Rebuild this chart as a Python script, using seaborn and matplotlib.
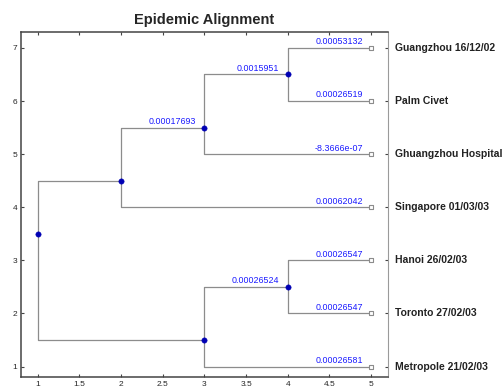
import numpy as np
import pandas as pd
import matplotlib
matplotlib.use("Agg")
import matplotlib.pyplot as plt
import seaborn as sns

# tree nodes: x = depth, y = vertical position, parent = index of parent node (-1 root)
node_x = [1, 2, 3, 4, 3, 4, 5, 5, 5, 5, 5, 5, 5]
node_y = [3.5, 4.5, 5.5, 6.5, 1.5, 2.5, 7, 6, 5, 4, 3, 2, 1]
parent = [-1, 0, 1, 2, 0, 4, 3, 3, 2, 1, 5, 5, 4]
branch_len = ["", "", "0.00017693", "0.0015951", "", "0.00026524",
              "0.00053132", "0.00026519", "-8.3666e-07", "0.00062042",
              "0.00026547", "0.00026547", "0.00026581"]
leaf_names = ["Guangzhou 16/12/02", "Palm Civet", "Ghuangzhou Hospital",
              "Singapore 01/03/03", "Hanoi 26/02/03", "Toronto 27/02/03",
              "Metropole 21/02/03"]
leaf_y = [7, 6, 5, 4, 3, 2, 1]

nodes = pd.DataFrame({"x": node_x, "y": node_y, "parent": parent, "label": branch_len})
nodes["leaf"] = nodes["x"] == 5

sns.set_style("white")
plt.rcParams["font.family"] = ["Liberation Sans", "DejaVu Sans"]

fig = plt.figure(figsize=(5.03, 3.9), dpi=100)
ax = fig.add_axes([0.042, 0.033, 0.729, 0.885])

# elbow segments from parent to child
segs = []
for i, row in nodes.iterrows():
    if row["parent"] < 0:
        continue
    p = nodes.loc[row["parent"]]
    segs.append(pd.DataFrame({"x": [p["x"], p["x"], row["x"]],
                              "y": [p["y"], row["y"], row["y"]], "seg": i}))
segs = pd.concat(segs, ignore_index=True)
sns.lineplot(data=segs, x="x", y="y", units="seg", estimator=None, sort=False,
             color="#8c8c8c", lw=0.9, ax=ax)

sns.scatterplot(data=nodes[~nodes["leaf"]], x="x", y="y", color="#0000b4",
                s=15, edgecolor="#0000b4", ax=ax, zorder=3)
sns.scatterplot(data=nodes[nodes["leaf"]], x="x", y="y", marker="s", s=12,
                facecolor="white", edgecolor="#8c8c8c", linewidth=0.8, ax=ax, zorder=3)

# branch lengths sit just above each branch, right aligned
for _, row in nodes.iterrows():
    if row["label"]:
        ax.text(row["x"] - 0.1, row["y"] + 0.03, row["label"], color="#1a1aff",
                fontsize=6.4, ha="right", va="bottom")

ax.set_xlim(0.8, 5.2)
ax.set_ylim(0.8, 7.3)
ax.set_xticks(np.arange(1, 5.01, 0.5))
ax.set_xticklabels(["1", "1.5", "2", "2.5", "3", "3.5", "4", "4.5", "5"])
ax.set_yticks(range(1, 8))
ax.set_xlabel("")
ax.set_ylabel("")
ax.tick_params(direction="in", length=2.5, width=0.8, color="#444444",
               labelsize=6, pad=3, top=True, right=True, bottom=True, left=True)
for name in ["left", "bottom", "top"]:
    ax.spines[name].set_color("#444444")
    ax.spines[name].set_linewidth(1.1)
ax.spines["right"].set_color("#9a9a9a")

for name, y in zip(leaf_names, leaf_y):
    ax.text(5.29, y, name, fontsize=7.5, fontweight="bold", ha="left",
            va="center", color="#222222", clip_on=False)

ax.set_title("Epidemic Alignment", fontsize=10.5, fontweight="bold", pad=6)

fig.savefig("out.png", dpi=100)
